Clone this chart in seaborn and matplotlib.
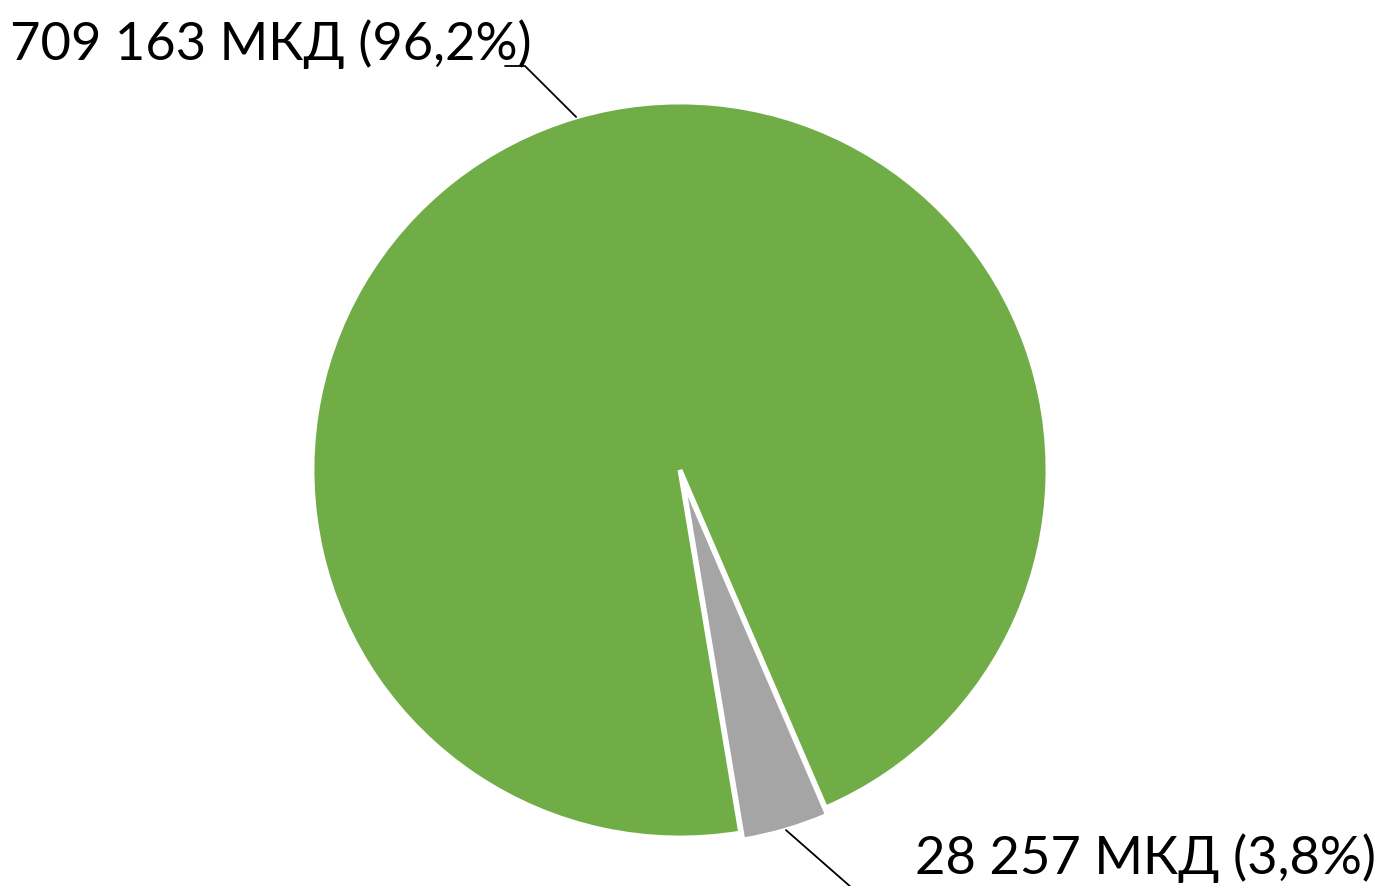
import numpy as np
import matplotlib
matplotlib.use("Agg")
import matplotlib.pyplot as plt
import seaborn as sns

# Data
categories = ["Green", "Gray"]
values = [709163, 28257]
labels = ["709 163 МКД (96,2%)", "28 257 МКД (3,8%)"]
colors = ["#70AD47", "#A5A5A5"]

sns.set_theme(style="white")
plt.rcParams['font.family'] = ['Lato', 'DejaVu Sans']

W, H, DPI = 1382, 886, 100
fig = plt.figure(figsize=(W / DPI, H / DPI), dpi=DPI)
ax = fig.add_axes([0, 0, 1, 1])
R = 368.0
cx, cy = 680.0, 470.0

start = -80.5
wedges, _ = ax.pie(values, colors=colors, startangle=start, counterclock=False,
                   explode=[0, 0.02], radius=1.0, center=(0, 0),
                   wedgeprops=dict(edgecolor='white', linewidth=3.5), frame=False)
ax.set_xlim(-cx / R, (W - cx) / R)
ax.set_ylim(-(H - cy) / R, cy / R)
ax.set_aspect('auto')
ax.axis('off')

def px(x, y):
    return ((x - cx) / R, (cy - y) / R)

fs = 37.8
for i, w in enumerate(wedges):
    mid = np.deg2rad((w.theta1 + w.theta2) / 2)
    ex, ey = w.center
    p0 = (ex + np.cos(mid), ey + np.sin(mid))
    if i == 0:
        elbow = px(525, 66)
        end = px(505, 66)
        ax.plot([p0[0], elbow[0], end[0]], [p0[1], elbow[1], end[1]], color='black', lw=1.3)
        tx, ty = px(10, 60)
        ax.text(tx, ty, labels[i], fontsize=fs, ha='left', va='baseline', color='black')
    else:
        end = px(852, 888)
        ax.plot([p0[0], end[0]], [p0[1], end[1]], color='black', lw=1.3)
        tx, ty = px(1376, 874)
        ax.text(tx, ty, labels[i], fontsize=fs, ha='right', va='baseline', color='black')

fig.savefig("out.png", dpi=DPI)
